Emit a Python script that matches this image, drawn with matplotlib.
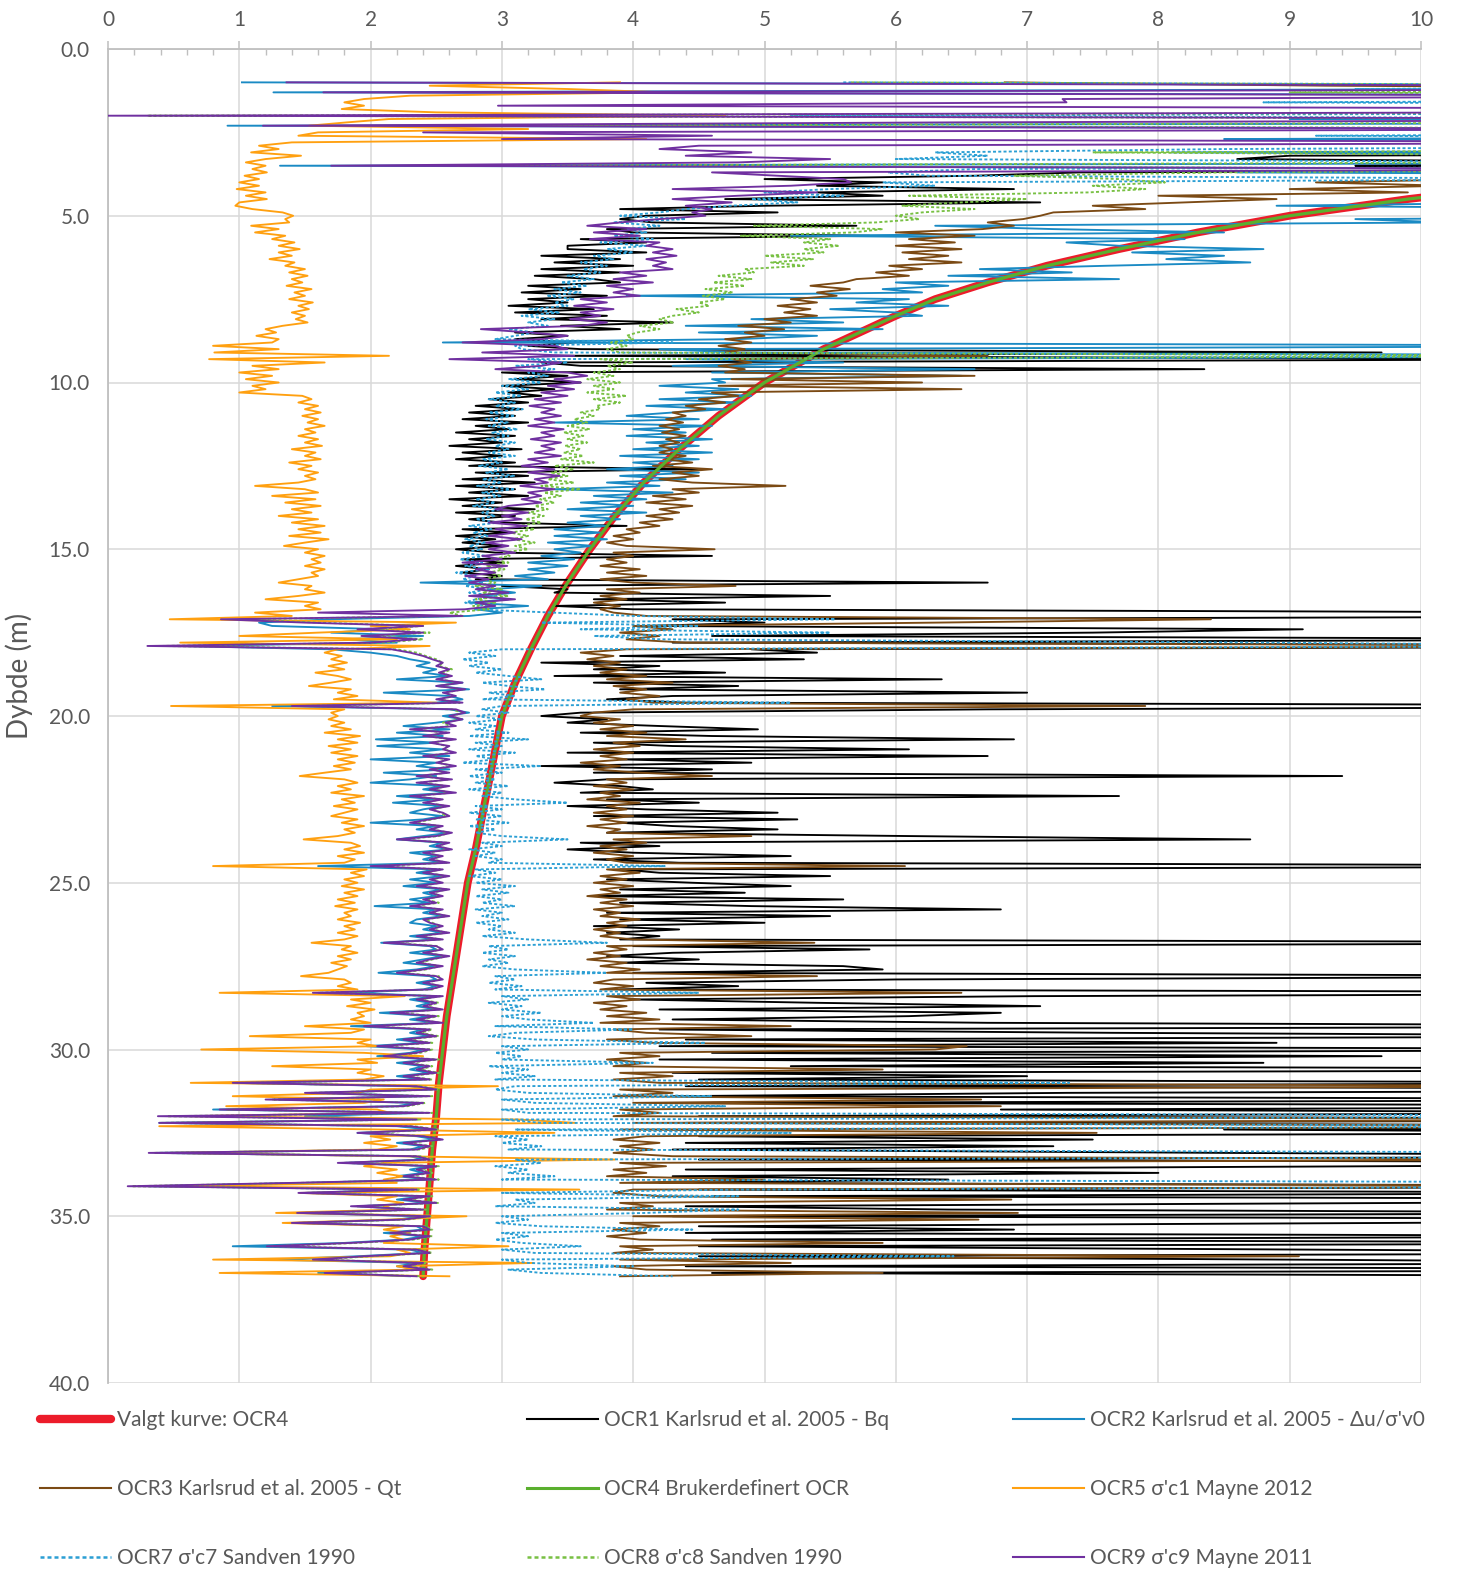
import numpy as np
import matplotlib
matplotlib.use("Agg")
import matplotlib.pyplot as plt
from matplotlib.lines import Line2D

plt.rcParams['font.family'] = ['Lato', 'DejaVu Sans']

# Sounding depth (m), 0.1 m spacing from 1.0 to 36.8 m
depth = np.round(np.arange(10, 369) / 10.0, 1)

# OCR1 Karlsrud et al. 2005 - Bq (one row per metre)
ocr1 = [
    25, 30, 22, 28, 35, 26, 30, 24, 27, 32,
    28, 33, 25, 30, 27, 31, 26, 29, 24, 22,
    20, 18, 9.0, 8.6, 12, 9.5, 14, 7.4, 6.6, 5.0,
    5.9, 5.4, 6.9, 5.4, 5.9, 4.7, 7.1, 5.0, 3.9, 5.1,
    4.1, 3.9, 4.15, 5.7, 3.8, 4.0, 5.8, 3.6, 4.1, 3.5,
    3.5, 4.1, 3.3, 3.9, 3.4, 4.0, 3.3, 3.9, 3.25, 3.7,
    3.9, 3.2, 3.6, 3.15, 3.8, 3.2, 3.5, 3.05, 3.7, 3.1,
    3.8, 3.3, 4.3, 3.45, 3.9, 3.1, 3.5, 3.1, 3.55, 3.2,
    3.6, 9.7, 3.4, 12, 3.3, 3.6, 8.35, 3.0, 3.5, 3.1,
    3.6, 3.0, 3.4, 3.05, 3.3, 2.9, 3.2, 2.8, 3.15, 2.75,
    3.1, 2.7, 3.2, 2.8, 3.05, 2.65, 3.1, 2.75, 3.0, 2.6,
    3.15, 2.7, 3.0, 2.65, 3.1, 2.75, 4.5, 2.8, 3.2, 2.7,
    3.25, 2.65, 3.1, 2.75, 3.2, 2.6, 3.0, 2.7, 3.25, 2.65,
    3.1, 2.75, 3.0, 3.95, 2.7, 3.05, 2.65, 2.95, 2.7, 3.0,
    2.65, 2.95, 4.6, 2.7, 3.0, 2.65, 2.9, 2.7, 3.0, 2.8,
    6.7, 3.0, 3.5, 3.4, 5.5, 3.7, 4.7, 3.4, 4.0, 12,
    14, 4.3, 5.0, 4.1, 9.1, 7.5, 4.6, 13, 4.3, 15,
    4.9, 5.4, 3.9, 5.3, 3.3, 4.2, 3.7, 4.7, 3.4, 6.35,
    3.7, 4.8, 3.9, 7.0, 4.3, 3.8, 4.4, 15, 6.7, 3.6,
    3.3, 3.8, 3.5, 4.2, 4.95, 3.6, 4.6, 6.9, 3.7, 4.3,
    6.1, 3.5, 6.7, 3.9, 4.9, 3.3, 4.6, 3.7, 9.4, 3.8,
    3.4, 3.9, 4.15, 3.6, 7.7, 3.8, 4.5, 3.5, 4.1, 5.1,
    3.7, 5.25, 3.9, 4.3, 5.1, 3.8, 6.1, 8.7, 3.6, 4.2,
    3.5, 4.0, 5.2, 3.7, 4.35, 14, 3.9, 4.2, 5.5, 3.8,
    4.45, 5.2, 3.9, 4.85, 3.7, 5.6, 3.9, 4.9, 6.8, 3.8,
    5.5, 3.9, 5.0, 3.7, 4.35, 3.8, 4.2, 3.9, 14, 4.0,
    5.8, 4.3, 3.8, 4.5, 3.9, 5.6, 5.9, 4.0, 13, 6.0,
    4.1, 4.8, 3.9, 15, 7.05, 4.0, 5.4, 7.1, 4.2, 6.8,
    6.1, 4.3, 6.7, 14, 4.2, 7.65, 13, 4.4, 8.9, 4.2,
    14, 4.6, 9.7, 4.2, 8.8, 5.2, 15, 4.3, 7.0, 4.5,
    13, 4.4, 16, 7.3, 4.3, 14, 4.6, 15, 6.8, 13,
    4.5, 16, 4.4, 15, 8.5, 13, 4.5, 7.5, 4.4, 7.2,
    4.3, 8.5, 14, 4.5, 15, 9.7, 4.4, 8.0, 4.3, 6.4,
    4.2, 14, 4.5, 13, 4.6, 15, 9.95, 4.4, 6.4, 13,
    4.3, 15, 9.8, 4.5, 6.9, 4.4, 13, 4.6, 14, 4.5,
    9.05, 14, 4.5, 9.0, 13, 4.4, 15, 4.6, 13,
]

# OCR2 Karlsrud et al. 2005 - du/s'v0
ocr2 = [
    1.02, 14, 11, 1.26, 15, 12, 16, 13, 18, 14,
    15, 9.0, 16, 0.91, 14, 11, 17, 8.5, 15, 12,
    16, 8.1, 14, 10.5, 15, 1.31, 13, 8.6, 15, 12,
    14, 11, 15, 12, 16, 13, 11, 8.9, 12, 10.5,
    14, 9.5, 10.2, 6.3, 7.2, 8.5, 5.2, 8.2, 7.3, 7.7,
    8.8, 7.8, 8.5, 8.06, 8.7, 7.6, 6.64, 7.34, 6.4, 7.7,
    6.0, 6.4, 5.9, 6.2, 3.95, 6.1, 5.7, 6.4, 5.5, 6.0,
    6.2, 4.9, 5.6, 4.4, 5.9, 4.5, 5.4, 4.8, 2.55, 13,
    4.2, 4.8, 14, 4.4, 5.6, 4.3, 6.6, 4.6, 6.5, 4.6,
    4.7, 4.2, 4.8, 4.4, 4.9, 4.2, 4.8, 4.1, 4.7, 4.3,
    3.95, 4.5, 3.4, 4.6, 4.0, 4.4, 3.95, 4.6, 4.1, 4.5,
    4.0, 4.6, 3.9, 4.5, 4.0, 4.3, 3.8, 4.5, 3.9, 4.4,
    3.8, 4.2, 3.4, 4.3, 3.7, 4.1, 3.6, 4.0, 3.5, 4.1,
    3.6, 3.9, 3.5, 3.8, 3.4, 3.75, 3.4, 3.8, 3.35, 3.7,
    3.4, 3.6, 3.3, 3.55, 3.2, 3.5, 3.2, 3.4, 3.1, 3.35,
    2.38, 3.3, 2.9, 3.1, 2.85, 3.05, 2.75, 3.2, 2.8, 3.0,
    2.75, 1.7, 1.15, 1.25, 2.1, 1.7, 2.4, 1.8, 2.2, 0.56,
    1.7, 2.0, 2.2, 2.3, 2.45, 2.35, 2.5, 2.4, 2.6, 2.2,
    2.7, 2.5, 2.75, 2.1, 2.6, 2.7, 2.5, 1.25, 2.6, 2.75,
    2.55, 2.7, 2.5, 2.25, 2.6, 2.2, 2.55, 2.04, 2.5, 2.05,
    2.55, 2.3, 2.6, 2.0, 2.5, 2.35, 2.6, 2.1, 2.5, 2.3,
    2.0, 2.55, 2.4, 2.6, 2.2, 2.5, 2.17, 2.55, 2.4, 2.3,
    2.55, 2.4, 2.0, 2.5, 2.35, 2.6, 2.4, 2.2, 2.55, 2.45,
    2.6, 2.3, 2.5, 2.4, 2.55, 1.6, 2.5, 2.35, 2.55, 2.3,
    2.5, 2.25, 2.55, 2.4, 2.5, 2.3, 2.45, 2.03, 2.5, 2.4,
    2.55, 2.35, 2.3, 2.5, 2.4, 2.55, 2.3, 2.5, 2.08, 2.45,
    2.5, 2.3, 2.55, 2.4, 2.25, 2.5, 2.35, 2.06, 2.45, 2.5,
    2.35, 2.5, 2.4, 1.85, 2.5, 2.3, 2.45, 2.35, 2.5, 2.07,
    2.45, 2.3, 2.5, 1.85, 2.4, 2.3, 2.45, 2.2, 2.4, 1.97,
    2.4, 2.3, 2.05, 2.45, 2.2, 2.4, 2.3, 2.45, 2.2, 2.4,
    0.93, 2.3, 2.45, 1.6, 2.4, 1.3, 2.35, 2.2, 0.8, 2.4,
    1.5, 2.3, 0.39, 2.2, 2.45, 1.9, 2.35, 2.5, 2.2, 2.4,
    2.3, 0.37, 2.3, 2.4, 1.8, 2.45, 2.3, 2.4, 2.2, 2.45,
    1.5, 0.31, 2.3, 1.5, 2.4, 2.2, 2.45, 1.9, 2.35, 1.45,
    2.4, 2.2, 1.44, 2.35, 2.4, 2.1, 2.4, 2.25, 1.8, 0.95,
    2.3, 2.4, 1.9, 1.25, 2.35, 2.2, 2.4, 1.6, 2.3,
]

# OCR3 Karlsrud et al. 2005 - Qt
ocr3 = [
    6.83, 9.27, 14, 18, 16, 20, 17, 19, 22, 18,
    25, 19, 21, 23, 18, 20, 17, 19, 16, 18,
    17, 15, 16, 14, 15, 13, 14, 12, 11.5, 10.5,
    9.2, 10.2, 9.0, 9.9, 8.0, 8.9, 8.2, 7.5, 7.9, 7.2,
    7.1, 6.97, 6.7, 6.9, 6.66, 6.0, 6.6, 6.1, 6.45, 6.0,
    6.5, 6.05, 6.4, 6.1, 6.5, 5.95, 6.2, 5.85, 6.1, 5.7,
    5.6, 5.35, 5.65, 5.4, 5.55, 5.2, 5.4, 5.1, 5.35, 5.15,
    5.4, 5.0, 5.2, 4.8, 5.15, 4.85, 5.0, 4.7, 4.9, 4.65,
    4.85, 4.7, 6.7, 4.75, 4.9, 4.65, 4.85, 4.7, 6.6, 4.75,
    6.2, 4.65, 6.5, 4.6, 4.8, 4.5, 4.7, 4.4, 4.55, 4.3,
    4.4, 4.25, 4.38, 4.2, 4.35, 4.22, 4.4, 4.25, 4.35, 4.2,
    4.3, 4.2, 4.4, 4.25, 4.45, 4.15, 4.6, 4.3, 4.5, 4.2,
    4.45, 5.16, 4.3, 4.5, 4.15, 4.4, 4.1, 4.45, 4.2, 4.35,
    4.1, 4.3, 4.05, 4.2, 3.95, 4.05, 3.85, 4.0, 3.8, 3.95,
    4.62, 3.85, 4.0, 3.8, 3.95, 3.75, 4.05, 3.8, 4.1, 3.75,
    4.0, 4.78, 3.8, 4.05, 3.75, 3.95, 3.7, 3.9, 3.75, 3.85,
    4.1, 8.4, 6.3, 4.0, 4.3, 3.9, 4.2, 3.95, 4.4, 13,
    3.95, 3.6, 3.85, 3.65, 3.9, 3.7, 3.95, 3.75, 4.1, 3.8,
    4.3, 3.85, 4.1, 3.9, 4.2, 3.95, 4.15, 7.9, 4.0, 3.7,
    3.6, 3.9, 3.7, 4.0, 3.75, 4.1, 3.8, 4.4, 3.85, 4.05,
    3.7, 4.0, 3.75, 3.95, 3.6, 3.9, 3.7, 4.05, 4.6, 3.8,
    3.95, 3.7, 4.0, 3.75, 3.9, 3.65, 4.05, 3.8, 3.95, 3.7,
    4.0, 3.75, 3.95, 3.65, 3.9, 3.8, 4.9, 3.85, 4.1, 3.75,
    3.95, 3.7, 4.0, 3.8, 3.95, 6.07, 3.8, 4.05, 3.75, 3.95,
    3.7, 4.0, 3.75, 3.9, 3.65, 3.95, 3.75, 4.0, 3.7, 3.9,
    3.75, 4.05, 3.8, 3.95, 3.7, 3.9, 3.75, 4.0, 5.38, 3.8,
    3.95, 3.7, 3.9, 3.65, 3.95, 3.75, 4.05, 3.8, 5.4, 3.85,
    3.7, 4.0, 3.75, 6.5, 3.8, 4.05, 3.7, 3.95, 3.75, 4.1,
    3.8, 4.2, 3.75, 5.2, 3.85, 4.1, 4.9, 3.8, 4.15, 6.54,
    6.3, 3.9, 4.2, 3.8, 4.1, 3.85, 5.9, 3.9, 4.3, 3.85,
    4.2, 12, 3.9, 4.3, 3.85, 6.65, 4.0, 6.8, 3.9, 4.2,
    3.85, 13, 4.0, 14, 3.9, 7.53, 4.1, 3.85, 4.2, 3.9,
    4.15, 3.85, 4.3, 12, 3.9, 4.25, 3.85, 4.1, 3.8, 5.0,
    3.9, 13, 4.0, 3.85, 4.2, 6.88, 3.9, 4.15, 3.8, 6.93,
    4.0, 6.63, 3.9, 4.2, 3.85, 4.1, 3.8, 4.05, 5.9, 3.9,
    4.15, 3.85, 9.07, 3.9, 5.2, 3.85, 4.1, 5.9, 3.9,
]

# OCR4 Brukerdefinert OCR (user defined profile)
ocr4_depth = [1.0, 2.0, 3.0, 4.0, 4.5, 5.0, 5.5, 6.0, 6.5, 7.0, 7.5, 8.0,
              9.0, 10.0, 11.0, 12.0, 13.0, 14.0, 15.0, 16.0, 17.0, 18.0,
              19.0, 20.0, 21.0, 22.0, 23.0, 24.0, 25.0, 26.0, 27.0, 28.0,
              29.0, 30.0, 31.0, 32.0, 33.0, 34.0, 35.0, 36.0, 36.8]
ocr4 = [41, 21, 14.3, 11.0, 9.9, 9.0, 8.3, 7.7, 7.15, 6.7, 6.3, 6.0,
        5.45, 5.0, 4.65, 4.35, 4.08, 3.86, 3.67, 3.5, 3.35, 3.22,
        3.1, 3.0, 2.95, 2.9, 2.85, 2.8, 2.74, 2.7, 2.66, 2.62,
        2.58, 2.55, 2.52, 2.5, 2.47, 2.45, 2.43, 2.41, 2.4]

# OCR5 s'c1 Mayne 2012
ocr5 = [
    3.9, 2.45, 3.5, 4.25, 2.3, 1.95, 1.8, 1.95, 1.78, 2.5,
    4.7, 2.14, 1.82, 1.53, 3.2, 1.6, 1.45, 4.1, 1.4, 1.15,
    1.3, 1.09, 1.47, 1.2, 1.05, 1.2, 1.1, 1.21, 1.04, 1.15,
    1.0, 1.15, 0.98, 1.2, 1.05, 1.21, 1.0, 0.97, 1.1, 1.33,
    1.41, 1.35, 1.38, 1.09, 1.3, 1.12, 1.35, 1.25, 1.42, 1.3,
    1.46, 1.3, 1.4, 1.23, 1.42, 1.35, 1.5, 1.38, 1.52, 1.4,
    1.48, 1.36, 1.55, 1.42, 1.5, 1.38, 1.56, 1.45, 1.53, 1.4,
    1.5, 1.43, 1.52, 1.33, 1.2, 1.28, 1.13, 1.3, 1.25, 0.8,
    1.3, 0.81, 2.14, 0.77, 1.65, 1.1, 1.3, 1.0, 1.25, 1.05,
    1.3, 1.1, 1.2, 1.0, 1.48, 1.55, 1.45, 1.6, 1.5, 1.62,
    1.48, 1.6, 1.52, 1.65, 1.5, 1.58, 1.45, 1.6, 1.5, 1.63,
    1.4, 1.58, 1.5, 1.62, 1.38, 1.55, 1.45, 1.6, 1.5, 1.58,
    1.45, 1.12, 1.5, 1.6, 1.25, 1.58, 1.35, 1.62, 1.4, 1.55,
    1.3, 1.6, 1.4, 1.65, 1.45, 1.62, 1.38, 1.68, 1.5, 1.34,
    1.6, 1.5, 1.65, 1.55, 1.62, 1.5, 1.65, 1.55, 1.6, 1.45,
    1.3, 1.55, 1.5, 1.65, 1.45, 1.2, 1.6, 1.5, 1.62, 1.12,
    1.4, 0.47, 2.65, 2.0, 2.3, 1.6, 1.0, 2.2, 0.55, 2.45,
    1.75, 1.65, 1.78, 1.7, 1.82, 1.68, 1.8, 1.58, 1.75, 1.85,
    1.7, 1.53, 1.85, 1.75, 1.9, 1.72, 2.5, 0.48, 1.8, 1.7,
    1.75, 1.68, 1.8, 1.7, 1.85, 1.65, 1.92, 1.75, 1.9, 1.68,
    1.85, 1.7, 1.9, 1.75, 1.88, 1.72, 1.85, 1.65, 1.46, 1.8,
    1.9, 1.75, 1.85, 1.7, 1.95, 1.78, 1.88, 1.72, 1.9, 1.8,
    1.7, 1.9, 1.78, 1.95, 1.8, 1.88, 1.75, 1.49, 1.85, 1.92,
    1.8, 1.95, 1.75, 1.88, 1.8, 0.8, 1.97, 1.85, 1.95, 1.8,
    1.9, 1.78, 1.95, 1.8, 1.9, 1.75, 1.88, 1.73, 1.9, 1.8,
    1.85, 1.75, 1.92, 1.8, 1.88, 1.75, 1.9, 1.8, 1.55, 1.85,
    1.78, 1.9, 1.75, 1.85, 1.7, 1.82, 1.75, 1.68, 1.47, 1.8,
    1.85, 1.75, 1.9, 0.85, 2.26, 1.85, 2.0, 1.82, 2.03, 1.9,
    1.95, 1.85, 2.0, 1.5, 1.95, 1.85, 1.08, 2.0, 1.9, 2.05,
    0.71, 1.95, 2.4, 1.9, 2.05, 1.25, 2.0, 1.9, 2.1, 1.95,
    0.63, 2.97, 2.0, 1.9, 0.95, 2.1, 1.95, 0.9, 2.05, 2.15,
    0.63, 3.13, 3.56, 0.39, 2.1, 3.4, 2.0, 2.15, 1.95, 2.2,
    2.05, 0.48, 2.2, 3.86, 2.1, 1.95, 2.2, 2.05, 2.25, 2.1,
    2.2, 0.47, 3.59, 1.46, 2.2, 2.05, 2.25, 2.1, 2.2, 1.28,
    2.73, 2.15, 1.33, 2.25, 2.1, 2.3, 2.15, 2.25, 2.1, 3.05,
    2.2, 2.3, 2.15, 0.8, 3.24, 2.2, 2.35, 0.85, 2.6,
]

# OCR7 s'c7 Sandven 1990
ocr7 = [
    5.6, 14, 9.5, 16, 12, 15, 8.8, 17, 13, 15,
    5.2, 14, 11, 16, 13, 15, 9.2, 16, 12, 14,
    8.5, 6.3, 6.7, 6.0, 12, 15, 6.6, 5.94, 6.25, 12,
    5.9, 6.3, 5.5, 5.0, 5.6, 4.9, 5.25, 4.74, 4.4, 4.2,
    3.9, 4.4, 3.85, 4.2, 3.95, 4.1, 3.85, 4.15, 3.75, 4.1,
    3.8, 4.0, 3.7, 3.85, 3.6, 3.8, 3.62, 3.75, 3.5, 3.7,
    3.45, 3.65, 3.4, 3.6, 3.34, 3.55, 3.4, 3.5, 3.2, 3.44,
    3.15, 3.4, 3.2, 3.35, 3.05, 3.25, 3.1, 2.95, 4.3, 3.1,
    3.15, 3.4, 12, 3.2, 3.5, 3.1, 3.4, 3.2, 3.35, 3.05,
    3.3, 3.0, 3.2, 2.95, 3.15, 2.9, 3.1, 2.95, 3.16, 2.9,
    3.1, 2.88, 3.05, 2.9, 3.12, 2.92, 3.05, 2.88, 3.1, 2.95,
    3.05, 2.9, 3.1, 2.85, 3.0, 2.82, 3.05, 2.88, 3.1, 2.85,
    3.0, 2.81, 3.1, 2.85, 3.0, 2.8, 2.95, 2.78, 3.0, 2.85,
    2.95, 2.8, 2.98, 2.75, 2.92, 2.78, 2.9, 2.72, 2.88, 2.75,
    2.85, 2.7, 2.88, 2.68, 2.85, 2.72, 2.9, 2.65, 2.8, 2.7,
    2.85, 2.72, 2.9, 2.75, 2.97, 2.8, 2.72, 2.9, 2.78, 3.4,
    4.0, 5.54, 3.3, 4.5, 3.6, 5.5, 3.7, 4.2, 8.87, 12,
    3.0, 2.75, 2.95, 2.7, 2.9, 2.75, 3.0, 2.8, 3.05, 3.3,
    2.85, 3.05, 3.33, 2.9, 3.1, 2.85, 5.2, 3.0, 2.85, 3.05,
    2.8, 3.0, 2.75, 2.95, 2.8, 3.05, 2.75, 3.2, 2.8, 3.0,
    2.75, 3.1, 2.8, 2.95, 2.7, 3.3, 2.8, 3.0, 2.75, 2.95,
    2.8, 3.05, 2.75, 3.0, 2.85, 3.1, 3.5, 2.8, 3.0, 2.75,
    3.0, 2.8, 3.05, 2.75, 2.95, 2.8, 3.0, 3.5, 2.85, 3.0,
    2.75, 2.95, 2.8, 3.0, 2.9, 4.24, 2.8, 2.95, 2.75, 3.0,
    2.8, 3.1, 2.85, 3.05, 2.8, 3.0, 2.85, 3.1, 2.8, 3.0,
    2.85, 3.05, 2.8, 3.0, 2.9, 3.1, 2.85, 3.2, 3.8, 2.9,
    3.05, 2.85, 3.1, 2.9, 3.05, 2.85, 3.1, 3.8, 2.95, 3.1,
    2.9, 3.15, 2.95, 4.5, 3.0, 3.2, 2.9, 3.15, 3.0, 3.3,
    3.0, 3.2, 3.7, 2.95, 4.0, 3.1, 2.9, 3.25, 4.55, 3.0,
    3.2, 2.95, 3.15, 3.0, 4.15, 2.9, 3.2, 3.0, 3.25, 2.95,
    7.32, 3.1, 2.95, 3.2, 4.6, 3.0, 3.25, 4.7, 3.0, 3.2,
    14, 3.0, 3.3, 13, 3.1, 5.2, 2.95, 3.2, 3.0, 3.3,
    3.05, 13, 15, 3.1, 3.3, 2.95, 3.2, 3.05, 3.4, 3.0,
    14, 13, 4.8, 3.0, 4.8, 3.1, 3.25, 2.95, 4.8, 4.1,
    3.0, 3.2, 2.95, 3.3, 4.45, 3.0, 3.2, 2.95, 3.15, 3.6,
    3.0, 3.25, 6.44, 3.0, 3.2, 4.0, 3.05, 3.3, 4.3,
]

# OCR8 s'c8 Sandven 1990
ocr8 = [
    5.66, 13, 15, 9.0, 14, 12, 16, 11, 15, 13,
    0.3, 14, 12, 2.8, 15, 12, 14, 11, 16, 13,
    15, 7.5, 12, 14, 11, 2.65, 13, 8.5, 6.9, 7.7,
    8.05, 7.5, 7.9, 7.47, 6.1, 7.0, 6.5, 6.05, 6.6, 6.2,
    6.0, 6.18, 5.85, 4.92, 5.9, 5.68, 4.82, 5.5, 5.3, 5.57,
    5.3, 5.45, 5.0, 5.37, 5.05, 5.3, 4.85, 4.92, 4.65, 4.9,
    4.61, 4.85, 4.55, 4.76, 4.53, 4.7, 4.5, 4.58, 4.33, 4.5,
    4.3, 4.2, 4.31, 4.05, 4.2, 4.03, 3.95, 4.0, 3.83, 3.95,
    3.8, 3.9, 12, 3.75, 4.0, 3.8, 3.9, 3.7, 3.85, 3.65,
    3.9, 3.7, 3.85, 3.65, 3.95, 3.7, 3.9, 3.72, 3.75, 3.6,
    3.7, 3.55, 3.65, 3.5, 3.67, 3.47, 3.62, 3.5, 3.65, 3.48,
    3.6, 3.47, 3.62, 3.45, 3.7, 3.4, 3.55, 3.38, 3.5, 3.35,
    3.55, 3.3, 3.6, 3.32, 3.45, 3.29, 3.4, 3.25, 3.35, 3.2,
    3.32, 3.18, 3.3, 3.12, 3.25, 3.06, 3.2, 3.08, 3.25, 3.1,
    3.2, 3.0, 3.06, 2.92, 3.05, 2.88, 3.02, 2.9, 3.0, 2.85,
    2.95, 2.8, 3.0, 2.85, 3.05, 2.8, 2.95, 2.78, 2.9, 2.6,
    2.7, 1.0, 1.6, 2.4, 2.0, 2.45, 2.0, 2.4, 2.1, 0.4,
    2.2, 2.35, 2.42, 2.5, 2.55, 2.52, 2.62, 2.55, 2.6, 2.52,
    2.68, 2.52, 2.7, 2.57, 2.63, 2.52, 2.68, 1.45, 2.62, 2.7,
    2.62, 2.68, 2.55, 2.62, 2.32, 2.58, 2.42, 2.62, 2.47, 2.58,
    2.57, 2.62, 2.42, 2.58, 2.52, 2.62, 2.47, 2.58, 2.38, 2.6,
    2.38, 2.58, 2.47, 2.62, 2.33, 2.53, 2.42, 2.58, 2.47, 2.53,
    2.58, 2.47, 2.33, 2.53, 2.47, 2.6, 2.52, 2.23, 2.58, 2.52,
    2.6, 2.42, 2.53, 2.47, 2.58, 2.05, 2.53, 2.42, 2.58, 2.47,
    2.53, 2.38, 2.58, 2.47, 2.53, 2.42, 2.52, 2.33, 2.53, 2.47,
    2.58, 2.42, 2.47, 2.53, 2.47, 2.58, 2.38, 2.53, 2.15, 2.52,
    2.53, 2.42, 2.58, 2.47, 2.38, 2.53, 2.42, 2.23, 2.52, 2.53,
    2.42, 2.53, 2.47, 1.6, 2.53, 2.38, 2.52, 2.42, 2.53, 2.18,
    2.52, 2.38, 2.53, 1.98, 2.47, 2.38, 2.52, 2.28, 2.47, 2.08,
    2.47, 2.38, 2.13, 2.52, 2.28, 2.47, 2.38, 2.52, 2.28, 2.47,
    1.0, 2.38, 2.52, 1.55, 2.47, 1.25, 2.42, 2.28, 0.9, 2.47,
    0.45, 2.38, 0.4, 2.33, 2.52, 1.95, 2.42, 2.53, 2.28, 2.47,
    2.38, 0.35, 2.38, 2.47, 1.8, 2.52, 2.38, 2.47, 2.28, 2.52,
    1.45, 0.18, 2.38, 1.5, 2.47, 2.28, 2.52, 1.9, 2.42, 1.5,
    2.47, 2.28, 1.45, 2.42, 2.47, 2.18, 2.47, 2.33, 1.9, 1.25,
    2.38, 2.47, 2.0, 1.6, 2.42, 2.28, 2.47, 1.7, 2.38,
]

# OCR9 s'c9 Mayne 2011
ocr9 = [
    1.36, 12, 14, 1.64, 13, 7.27, 7.3, 2.97, 14, 11,
    0.0, 15, 6.45, 1.18, 13, 2.4, 4.6, 3.0, 14, 4.5,
    4.2, 4.9, 4.4, 5.5, 4.8, 1.7, 13, 4.6, 5.1, 5.6,
    5.66, 5.2, 4.3, 5.4, 4.8, 4.3, 4.75, 4.4, 4.6, 4.45,
    4.55, 4.2, 3.9, 3.65, 4.1, 3.7, 4.05, 3.67, 4.2, 4.1,
    4.3, 4.15, 4.33, 4.1, 4.25, 4.15, 4.3, 3.9, 4.1, 3.85,
    4.15, 3.8, 4.0, 3.85, 4.05, 3.6, 3.8, 3.55, 3.85, 3.6,
    3.75, 3.52, 3.8, 3.6, 2.84, 3.21, 3.5, 3.3, 2.7, 3.4,
    3.5, 2.85, 3.55, 2.6, 3.45, 3.3, 2.95, 3.5, 3.65, 3.4,
    3.6, 3.35, 3.55, 3.3, 3.5, 3.25, 3.45, 3.21, 3.4, 3.3,
    3.45, 3.25, 3.4, 3.2, 3.47, 3.3, 3.4, 3.22, 3.45, 3.3,
    3.4, 3.25, 3.45, 3.2, 3.35, 3.15, 3.4, 3.2, 3.44, 3.25,
    3.35, 3.14, 3.4, 3.2, 3.3, 3.15, 3.3, 3.05, 2.95, 3.2,
    3.0, 3.15, 2.9, 3.19, 2.95, 3.1, 2.9, 3.15, 2.88, 3.05,
    2.9, 3.1, 2.85, 3.0, 2.7, 3.04, 2.8, 2.95, 2.72, 2.9,
    2.75, 2.95, 2.8, 3.05, 2.75, 3.1, 2.8, 2.95, 2.72, 1.6,
    2.7, 0.86, 1.5, 2.4, 1.9, 2.4, 1.93, 2.35, 2.0, 0.3,
    2.16, 2.3, 2.4, 2.47, 2.55, 2.5, 2.6, 2.52, 2.62, 2.5,
    2.7, 2.5, 2.72, 2.55, 2.65, 2.5, 2.7, 1.4, 2.65, 2.72,
    2.6, 2.7, 2.57, 2.65, 2.3, 2.6, 2.4, 2.65, 2.45, 2.6,
    2.55, 2.65, 2.4, 2.6, 2.5, 2.65, 2.45, 2.6, 2.35, 2.62,
    2.35, 2.6, 2.45, 2.65, 2.3, 2.55, 2.4, 2.6, 2.45, 2.55,
    2.6, 2.45, 2.3, 2.55, 2.45, 2.62, 2.5, 2.2, 2.6, 2.5,
    2.62, 2.4, 2.55, 2.45, 2.6, 2.0, 2.55, 2.4, 2.6, 2.45,
    2.55, 2.35, 2.6, 2.45, 2.55, 2.4, 2.5, 2.3, 2.55, 2.45,
    2.6, 2.4, 2.45, 2.55, 2.45, 2.6, 2.35, 2.55, 2.1, 2.5,
    2.55, 2.4, 2.6, 2.45, 2.35, 2.55, 2.4, 2.2, 2.5, 2.55,
    2.4, 2.55, 2.45, 1.56, 2.55, 2.35, 2.5, 2.4, 2.55, 2.15,
    2.5, 2.35, 2.55, 1.95, 2.45, 2.35, 2.5, 2.25, 2.45, 2.05,
    2.45, 2.35, 2.1, 2.5, 2.25, 2.45, 2.35, 2.5, 2.25, 2.45,
    0.95, 2.35, 2.5, 1.5, 2.45, 1.2, 2.4, 2.25, 0.85, 2.45,
    0.38, 2.35, 0.39, 2.3, 2.5, 1.9, 2.4, 2.55, 2.25, 2.45,
    2.35, 0.31, 2.35, 2.45, 1.75, 2.5, 2.35, 2.45, 2.25, 2.5,
    1.4, 0.15, 2.35, 1.45, 2.45, 2.25, 2.5, 1.85, 2.4, 1.44,
    2.45, 2.25, 1.4, 2.4, 2.45, 2.15, 2.45, 2.3, 1.85, 1.21,
    2.35, 2.45, 1.95, 1.56, 2.4, 2.25, 2.45, 1.65, 2.35,
]

for name, s in [('ocr1', ocr1), ('ocr2', ocr2), ('ocr3', ocr3), ('ocr5', ocr5),
                ('ocr7', ocr7), ('ocr8', ocr8), ('ocr9', ocr9)]:
    assert len(s) == len(depth), (name, len(s))

labels = {
    'valgt': "Valgt kurve: OCR4",
    'ocr1': "OCR1 Karlsrud et al. 2005 - Bq",
    'ocr2': "OCR2 Karlsrud et al. 2005 - \u0394u/\u03c3'v0",
    'ocr3': "OCR3 Karlsrud et al. 2005 - Qt",
    'ocr4': "OCR4 Brukerdefinert OCR",
    'ocr5': "OCR5 \u03c3'c1 Mayne 2012",
    'ocr7': "OCR7 \u03c3'c7 Sandven 1990",
    'ocr8': "OCR8 \u03c3'c8 Sandven 1990",
    'ocr9': "OCR9 \u03c3'c9 Mayne 2011",
}

RED = '#EC1C2A'
BLACK = '#000000'
BLUE = '#1A8AC4'
BROWN = '#7B4A14'
GREEN = '#5AAF2E'
ORANGE = '#FFA010'
BLUE_DOT = '#2B9FD4'
GREEN_DOT = '#78C043'
PURPLE = '#7030A0'
TXT = '#595959'
GRID = '#D9D9D9'
AXIS = '#BFBFBF'

W, H = 1457, 1573
fig = plt.figure(figsize=(W / 100, H / 100), dpi=100)
ax = fig.add_axes([108 / W, 1 - 1383 / H, (1421 - 108) / W, (1383 - 49) / H])

lw = 1.35
dot = (0, (1.6, 1.2))
ax.plot(ocr4, ocr4_depth, color=RED, lw=5.6, solid_capstyle='round', zorder=2)
ax.plot(ocr1, depth, color=BLACK, lw=lw, zorder=3)
ax.plot(ocr2, depth, color=BLUE, lw=lw, zorder=4)
ax.plot(ocr3, depth, color=BROWN, lw=lw, zorder=5)
ax.plot(ocr4, ocr4_depth, color=GREEN, lw=2.3, zorder=6)
ax.plot(ocr5, depth, color=ORANGE, lw=lw, zorder=7)
ax.plot(ocr7, depth, color=BLUE_DOT, lw=lw, ls=dot, zorder=8)
ax.plot(ocr8, depth, color=GREEN_DOT, lw=lw, ls=dot, zorder=9)
ax.plot(ocr9, depth, color=PURPLE, lw=lw, zorder=10)

ax.set_xlim(0, 10)
ax.set_ylim(40, 0)
ax.xaxis.tick_top()
ax.set_xticks(np.arange(0, 11, 1))
ax.set_xticks(np.arange(0, 10.01, 0.2), minor=True)
ax.set_yticks(np.arange(0, 41, 5))
ax.set_yticklabels([f"{v:.1f}" for v in np.arange(0, 41, 5)])
ax.grid(True, which='major', color=GRID, lw=1.1, zorder=0)
ax.set_axisbelow(True)
for side in ('right', 'bottom'):
    ax.spines[side].set_visible(False)
for side in ('top', 'left'):
    ax.spines[side].set_color(AXIS)
    ax.spines[side].set_linewidth(1.3)
ax.tick_params(axis='x', which='major', direction='out', length=6, width=1.1,
               color=AXIS, labelcolor=TXT, labelsize=15, pad=8)
ax.tick_params(axis='x', which='minor', direction='in', length=4, width=1.0,
               color=AXIS)
ax.tick_params(axis='y', which='major', length=0, labelcolor=TXT, labelsize=15,
               pad=13)
ax.set_ylabel("Dybde (m)", color=TXT, fontsize=20)
ax.yaxis.set_label_coords(-0.057, 0.53)

h = {
    'valgt': Line2D([], [], color=RED, lw=6, solid_capstyle='round'),
    'ocr1': Line2D([], [], color=BLACK, lw=1.5),
    'ocr2': Line2D([], [], color=BLUE, lw=1.5),
    'ocr3': Line2D([], [], color=BROWN, lw=1.5),
    'ocr4': Line2D([], [], color=GREEN, lw=2.2),
    'ocr5': Line2D([], [], color=ORANGE, lw=1.5),
    'ocr7': Line2D([], [], color=BLUE_DOT, lw=1.8, ls=dot),
    'ocr8': Line2D([], [], color=GREEN_DOT, lw=1.8, ls=dot),
    'ocr9': Line2D([], [], color=PURPLE, lw=1.5),
}
columns = [('valgt', 'ocr3', 'ocr7'), ('ocr1', 'ocr4', 'ocr8'),
           ('ocr2', 'ocr5', 'ocr9')]
col_x = [40, 527, 1013]
for keys, x0 in zip(columns, col_x):
    fig.legend([h[k] for k in keys], [labels[k] for k in keys],
               loc='upper left', bbox_to_anchor=(x0 / W, 1 - 1410 / H),
               frameon=False, borderpad=0, borderaxespad=0,
               handlelength=3.4, handletextpad=0.3, labelspacing=2.35,
               fontsize=15, labelcolor=TXT)

fig.savefig('out.png', dpi=100)
